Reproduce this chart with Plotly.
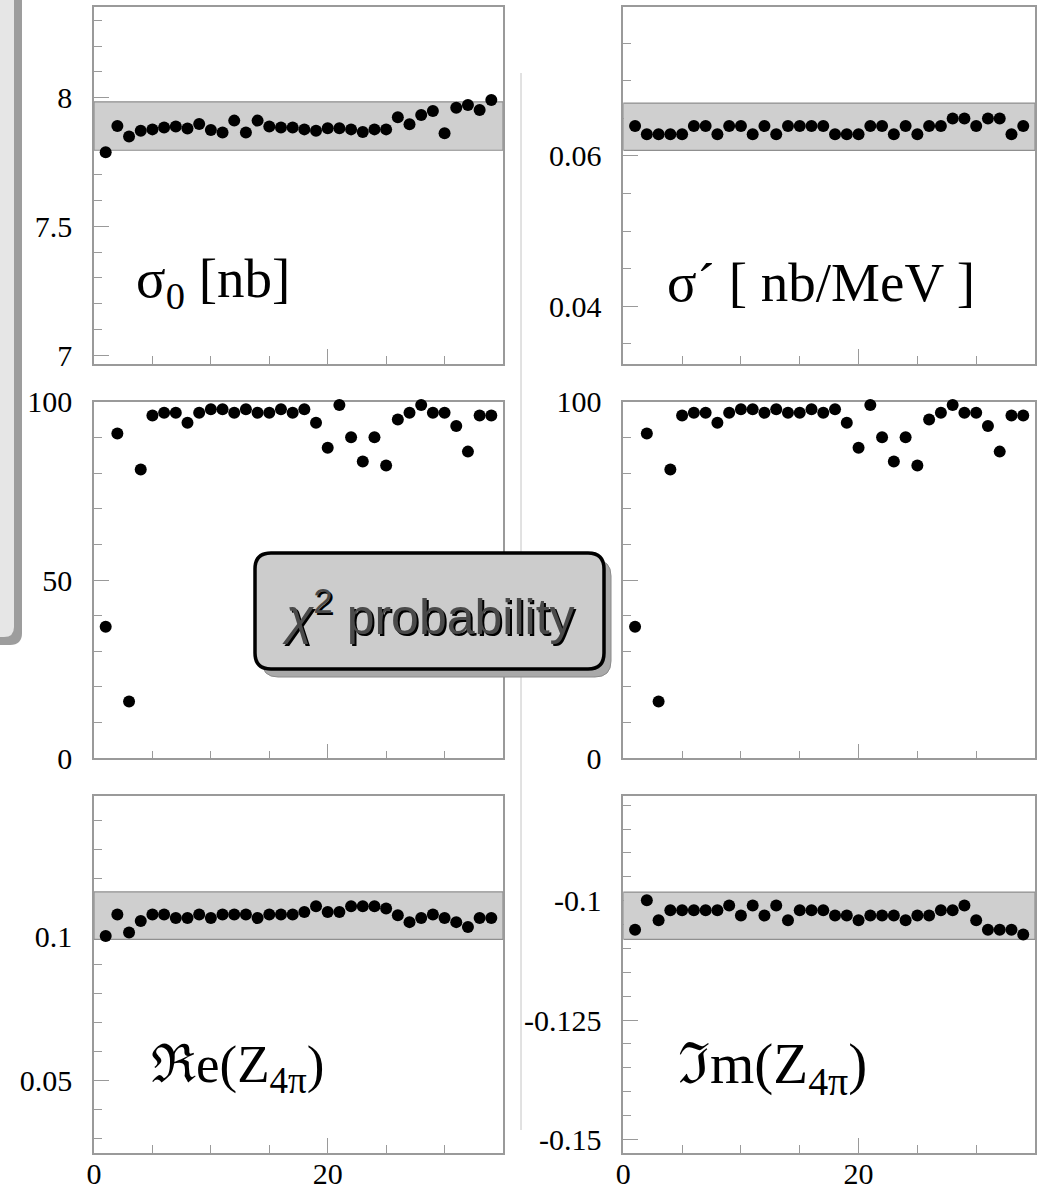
import plotly.graph_objects as go

# ---------------- data ----------------
run_index = list(range(1, 35))

sigma0 = [7.788, 7.890, 7.849, 7.872, 7.877, 7.884, 7.888, 7.880, 7.898, 7.875,
          7.865, 7.911, 7.865, 7.911, 7.888, 7.884, 7.884, 7.877, 7.872, 7.881,
          7.881, 7.877, 7.867, 7.877, 7.877, 7.924, 7.897, 7.933, 7.948, 7.862,
          7.961, 7.972, 7.952, 7.991]
sigma0_band = [7.796, 7.984]

sigma_prime = [0.0640, 0.0629, 0.0629, 0.0629, 0.0629, 0.0640, 0.0640, 0.0629, 0.0640, 0.0640,
               0.0629, 0.0640, 0.0629, 0.0640, 0.0640, 0.0640, 0.0640, 0.0629, 0.0629, 0.0629,
               0.0640, 0.0640, 0.0629, 0.0640, 0.0629, 0.0640, 0.0640, 0.0650, 0.0650, 0.0640,
               0.0650, 0.0650, 0.0629, 0.0640]
sigma_prime_band = [0.06075, 0.06705]

chi2_left = [36.9, 91.1, 15.9, 81.0, 96.1, 96.9, 96.9, 94.1, 96.9, 97.9,
             97.9, 96.9, 97.9, 96.9, 96.9, 97.9, 96.9, 97.9, 94.1, 87.1,
             99.1, 90.0, 83.2, 90.0, 82.1, 95.0, 96.9, 99.1, 96.9, 96.9,
             93.2, 86.0, 96.1, 96.1]
chi2_right = [36.9, 91.1, 15.9, 81.0, 96.1, 96.9, 96.9, 94.1, 96.9, 97.9,
              97.9, 96.9, 97.9, 96.9, 96.9, 97.9, 96.9, 97.9, 94.1, 87.1,
              99.1, 90.0, 83.2, 90.0, 82.1, 95.0, 96.9, 99.1, 96.9, 96.9,
              93.2, 86.0, 96.1, 96.1]

re_z = [0.1000, 0.1074, 0.1012, 0.1052, 0.1074, 0.1074, 0.1062, 0.1062, 0.1074, 0.1062,
        0.1074, 0.1074, 0.1074, 0.1062, 0.1074, 0.1074, 0.1074, 0.1083, 0.1103, 0.1083,
        0.1083, 0.1103, 0.1103, 0.1103, 0.1095, 0.1072, 0.1048, 0.1062, 0.1074, 0.1062,
        0.1048, 0.1031, 0.1062, 0.1062]
re_z_band = [0.09885, 0.11524]

im_z = [-0.1061, -0.0999, -0.1041, -0.1020, -0.1020, -0.1020, -0.1020, -0.1020, -0.1010, -0.1031,
        -0.1010, -0.1031, -0.1010, -0.1041, -0.1020, -0.1020, -0.1020, -0.1031, -0.1031, -0.1041,
        -0.1031, -0.1031, -0.1031, -0.1041, -0.1031, -0.1031, -0.1020, -0.1020, -0.1010, -0.1041,
        -0.1061, -0.1061, -0.1061, -0.1071]
im_z_band = [-0.1081, -0.0982]

x_range = [0, 35]
x_tickvals = [0, 20]
x_ticktext = ["0", "20"]

y_ranges = [[6.966, 8.351], [0.0323, 0.0798], [0, 100], [0, 100],
            [0.0251, 0.1485], [-0.1528, -0.0780]]
y_tickvals = [[7, 7.5, 8], [0.04, 0.06], [0, 50, 100], [0, 50, 100],
              [0.05, 0.1], [-0.15, -0.125, -0.1]]
y_ticktext = [["7", "7.5", "8"], ["0.04", "0.06"], ["0", "50", "100"], ["0", "50", "100"],
              ["0.05", "0.1"], ["-0.15", "-0.125", "-0.1"]]
y_minor = [0.1, 0.005, 10, 10, 0.01, 0.005]

panel_labels = ["σ<sub>0</sub> [nb]", "σ´ [ nb/MeV ]", "", "",
                "ℜe(Z<sub>4π</sub>)", "ℑm(Z<sub>4π</sub>)"]
series = [sigma0, sigma_prime, chi2_left, chi2_right, re_z, im_z]
bands = [sigma0_band, sigma_prime_band, None, None, re_z_band, im_z_band]

# ---------------- layout geometry (pixels) ----------------
W, H = 1055, 1189


def px(x):
    return x / W


def py(y):
    return 1 - y / H


col_px = [(94, 503), (623.3, 1035)]
row_px = [(7.3, 364), (401.7, 758.3), (795.7, 1152.7)]

fig = go.Figure()
layout = dict(width=W, height=H,
              margin=dict(l=0, r=0, t=0, b=0, pad=0, autoexpand=False),
              paper_bgcolor="white", plot_bgcolor="white", showlegend=False)

tick_font = dict(family="Liberation Serif", size=30, color="black")
frame_col = "#9a9a9a"

for i in range(6):
    r, c = divmod(i, 2)
    n = i + 1
    xa = "xaxis" if n == 1 else f"xaxis{n}"
    ya = "yaxis" if n == 1 else f"yaxis{n}"
    xr = "x" if n == 1 else f"x{n}"
    yr = "y" if n == 1 else f"y{n}"
    layout[xa] = dict(
        domain=[px(col_px[c][0]), px(col_px[c][1])], anchor=yr, range=x_range,
        tickmode="array", tickvals=x_tickvals, ticktext=x_ticktext,
        showticklabels=(r == 2), ticks="inside", ticklen=15, tickwidth=1.2, tickcolor=frame_col,
        minor=dict(tickmode="linear", tick0=0, dtick=5, ticks="inside", ticklen=8,
                   tickwidth=1.2, tickcolor=frame_col),
        showline=True, mirror=True, linecolor=frame_col, linewidth=1.5,
        showgrid=False, zeroline=False, tickfont=tick_font, ticklabelstandoff=-6,
        layer="below traces", fixedrange=True, automargin=False,
    )
    layout[ya] = dict(
        domain=[py(row_px[r][1]), py(row_px[r][0])], anchor=xr, range=y_ranges[i],
        tickmode="array", tickvals=y_tickvals[i], ticktext=y_ticktext[i],
        ticks="inside", ticklen=15, tickwidth=1.2, tickcolor=frame_col,
        minor=dict(tickmode="linear", tick0=0, dtick=y_minor[i], ticks="inside", ticklen=8,
                   tickwidth=1.2, tickcolor=frame_col),
        showline=True, mirror=True, linecolor=frame_col, linewidth=1.5,
        showgrid=False, zeroline=False, tickfont=tick_font, ticklabelstandoff=14,
        layer="below traces", fixedrange=True, automargin=False,
    )
    if bands[i] is not None:
        lo, hi = bands[i]
        fig.add_trace(go.Scatter(
            x=[x_range[0], x_range[1], x_range[1], x_range[0], x_range[0]],
            y=[lo, lo, hi, hi, lo], mode="lines", fill="toself",
            fillcolor="#cfcfcf", line=dict(color="#8f8f8f", width=1.2),
            xaxis=xr, yaxis=yr, hoverinfo="skip"))
    fig.add_trace(go.Scatter(
        x=run_index, y=series[i], mode="markers",
        marker=dict(color="black", size=12, line=dict(width=0)),
        xaxis=xr, yaxis=yr, cliponaxis=False))

# ---------------- panel labels ----------------
label_pos = [(134, 282), (665, 282), None, None, (149, 1068), (676, 1068)]
label_size = [55, 55, 0, 0, 53, 57]
annotations = []
for i in range(6):
    if label_pos[i] is None:
        continue
    x0, y0 = label_pos[i]
    annotations.append(dict(
        text=panel_labels[i], x=px(x0), y=py(y0), xref="paper", yref="paper",
        xanchor="left", yanchor="middle", showarrow=False,
        font=dict(family="Liberation Serif", size=label_size[i], color="black")))


# ---------------- decorative boxes ----------------
def rounded_path(x0, y0, x1, y1, rad):
    pts = [
        ("M", [(x0 + rad, y0)]),
        ("L", [(x1 - rad, y0)]),
        ("Q", [(x1, y0), (x1, y0 + rad)]),
        ("L", [(x1, y1 - rad)]),
        ("Q", [(x1, y1), (x1 - rad, y1)]),
        ("L", [(x0 + rad, y1)]),
        ("Q", [(x0, y1), (x0, y1 - rad)]),
        ("L", [(x0, y0 + rad)]),
        ("Q", [(x0, y0), (x0 + rad, y0)]),
    ]
    s = ""
    for cmd, plist in pts:
        s += cmd + " " + " ".join(f"{px(a):.5f},{py(b):.5f}" for a, b in plist) + " "
    return s + "Z"


shapes = []
# partial panel at the left edge
shapes.append(dict(type="path", xref="paper", yref="paper",
                   path=rounded_path(-40, -20, 22, 645, 12),
                   fillcolor="#9d9d9d", line=dict(width=0), layer="above"))
shapes.append(dict(type="path", xref="paper", yref="paper",
                   path=rounded_path(-40, -20, 14, 637, 10),
                   fillcolor="#e6e6e6", line=dict(width=0), layer="above"))
# faint separator line
shapes.append(dict(type="line", xref="paper", yref="paper",
                   x0=px(521), x1=px(521), y0=py(73), y1=py(1130),
                   line=dict(color="#c4c4c4", width=1), layer="below"))
# chi^2 probability box with shadow
shapes.append(dict(type="path", xref="paper", yref="paper",
                   path=rounded_path(262, 560, 611, 677, 16),
                   fillcolor="#a9a9a9", line=dict(color="#8a8a8a", width=1), layer="above"))
shapes.append(dict(type="path", xref="paper", yref="paper",
                   path=rounded_path(255, 553, 604, 669, 16),
                   fillcolor="#cccccc", line=dict(color="black", width=3.5), layer="above"))

chi_text = "<i>χ</i><sup>2</sup> probability"
annotations.append(dict(text=chi_text, x=px(428), y=py(613), xref="paper", yref="paper",
                        xanchor="center", yanchor="middle", showarrow=False, xshift=2, yshift=-2,
                        font=dict(family="Liberation Sans", size=50, color="black")))
annotations.append(dict(text=chi_text, x=px(428), y=py(613), xref="paper", yref="paper",
                        xanchor="center", yanchor="middle", showarrow=False,
                        font=dict(family="Liberation Sans", size=50, color="#4a4a4a")))

layout["annotations"] = annotations
layout["shapes"] = shapes
fig.update_layout(**layout)
fig.write_html("out.html")
